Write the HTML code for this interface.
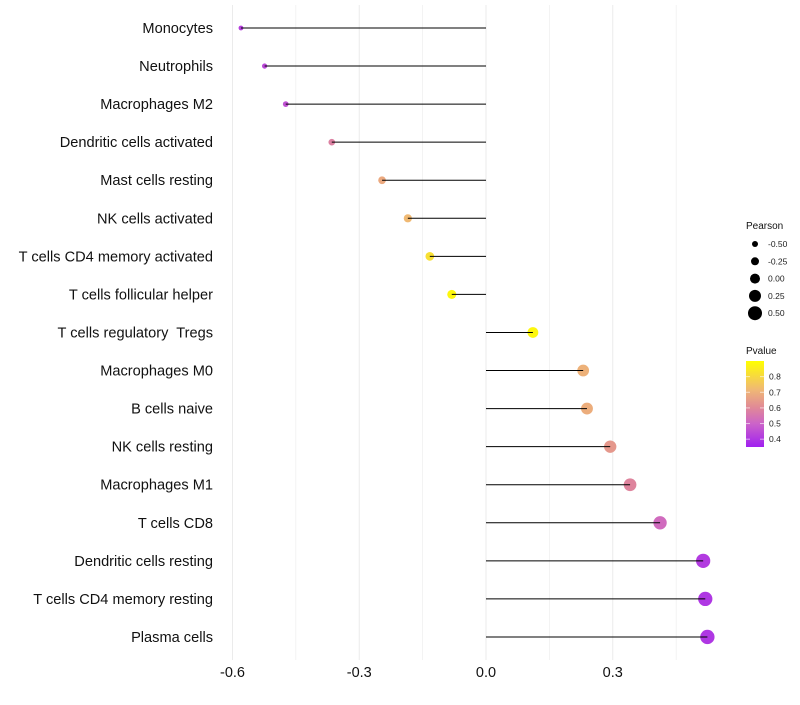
<!DOCTYPE html>
<html><head><meta charset="utf-8"><style>
body{margin:0;background:#fff;font-family:"Liberation Sans",sans-serif}
text{white-space:pre}
</style></head><body>
<svg id="chart" width="800" height="700" xmlns="http://www.w3.org/2000/svg" font-family="Liberation Sans, sans-serif"></svg>
<script>
const categories=["Monocytes","Neutrophils","Macrophages M2","Dendritic cells activated","Mast cells resting","NK cells activated","T cells CD4 memory activated","T cells follicular helper","T cells regulatory  Tregs","Macrophages M0","B cells naive","NK cells resting","Macrophages M1","T cells CD8","Dendritic cells resting","T cells CD4 memory resting","Plasma cells"];
const pearson=[-0.58,-0.524,-0.474,-0.365,-0.246,-0.185,-0.133,-0.081,0.111,0.23,0.239,0.294,0.341,0.412,0.514,0.519,0.524];
const pvalue=[0.42,0.44,0.46,0.58,0.68,0.72,0.82,0.88,0.88,0.7,0.69,0.64,0.59,0.52,0.41,0.4,0.4];
const xTicks=[-0.6,-0.3,0.0,0.3];
const sizeLegend=[-0.5,-0.25,0,0.25,0.5];
const colorTicks=[0.4,0.5,0.6,0.7,0.8];

const svg=document.getElementById('chart');
const NS="http://www.w3.org/2000/svg";
function mk(t,a,p){const e=document.createElementNS(NS,t);for(const k in a)e.setAttribute(k,a[k]);(p||svg).appendChild(e);return e;}
const x=v=>486+v*422.5;
const y=i=>28+i*38.06;
const r=v=>4.9+4.3*v;
const stops=[[0.35,[160,32,240]],[0.5,[204,100,200]],[0.6,[224,136,152]],[0.72,[240,185,115]],[0.9,[255,255,0]]];
function col(p){if(p<=stops[0][0])return 'rgb('+stops[0][1]+')';for(let i=1;i<stops.length;i++){if(p<=stops[i][0]){const a=stops[i-1],b=stops[i],t=(p-a[0])/(b[0]-a[0]);return 'rgb('+a[1].map((c,j)=>Math.round(c+(b[1][j]-c)*t)).join(',')+')';}}return 'rgb('+stops[stops.length-1][1]+')';}
const cy=p=>447-(p-0.35)/(0.9-0.35)*86;

// grid
for(let k=0;k<8;k++){const v=-0.6+k*0.15;const g=mk('line',{x1:x(v),x2:x(v),y1:5,y2:660,stroke:'#ebebeb','stroke-width':k%2===0?1:0.6});

}
xTicks.forEach(t=>{const e=mk('text',{x:x(t),y:677,'text-anchor':'middle','font-size':14.5,fill:'#111'});e.textContent=t.toFixed(1);

});
categories.forEach((c,i)=>{
const l=mk('text',{x:213,y:y(i)+5,'text-anchor':'end','font-size':14.6,fill:'#111'});l.textContent=c;


const pt=mk('circle',{cx:x(pearson[i]),cy:y(i),r:r(pearson[i]),fill:col(pvalue[i])});


const ln=mk('line',{x1:x(0),x2:x(pearson[i]),y1:y(i),y2:y(i),stroke:'#000','stroke-width':1});


});
// size legend
let t=mk('text',{x:746,y:229,'font-size':10,fill:'#111'});t.textContent='Pearson';


sizeLegend.forEach((v,i)=>{const yy=244+i*17.3;
const c=mk('circle',{cx:755,cy:yy,r:5+4*v,fill:'#000'});


const tx=mk('text',{x:768,y:yy+3,'font-size':8.5,fill:'#222'});tx.textContent=v.toFixed(2);

});
// color legend
t=mk('text',{x:746,y:354,'font-size':10,fill:'#111'});t.textContent='Pvalue';


const defs=mk('defs',{});const lg=mk('linearGradient',{id:'g',x1:0,y1:1,x2:0,y2:0},defs);
stops.forEach(s=>mk('stop',{offset:(s[0]-0.35)/0.55,'stop-color':'rgb('+s[1]+')'},lg));
const bar=mk('rect',{x:746,y:361,width:18,height:86,fill:'url(#g)'});


colorTicks.forEach(v=>{mk('line',{x1:746,x2:750,y1:cy(v),y2:cy(v),stroke:'#fff','stroke-opacity':0.6});mk('line',{x1:760,x2:764,y1:cy(v),y2:cy(v),stroke:'#fff','stroke-opacity':0.6});
const tx=mk('text',{x:769,y:cy(v)+3,'font-size':8.5,fill:'#222'});tx.textContent=v.toFixed(1);

});
</script>
</body></html>
